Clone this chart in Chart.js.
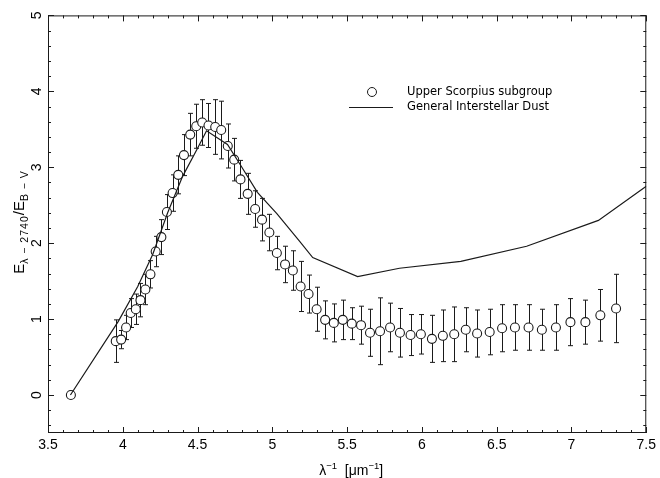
<!DOCTYPE html>
<html><head><meta charset="utf-8">
<script src="https://cdn.jsdelivr.net/npm/chart.js@4.4.0/dist/chart.umd.min.js"></script>
<style>html,body{margin:0;padding:0;background:#fff;}canvas{display:block;}</style>
</head><body>
<canvas id="c" width="660" height="478"></canvas>
<script>
// ---- data ----
const obsX = [3.653,3.953,3.989,4.022,4.053,4.087,4.118,4.151,4.185,4.220,4.258,4.295,4.333,4.371,4.409,4.451,4.491,4.531,4.573,4.618,4.658,4.702,4.745,4.787,4.835,4.885,4.931,4.980,5.030,5.085,5.137,5.189,5.242,5.296,5.353,5.411,5.471,5.531,5.593,5.653,5.720,5.787,5.853,5.924,5.993,6.067,6.140,6.216,6.293,6.369,6.453,6.536,6.622,6.713,6.802,6.896,6.993,7.093,7.193,7.298];
const obsY = [0.00,0.71,0.73,0.89,1.08,1.13,1.25,1.39,1.59,1.89,2.08,2.41,2.66,2.90,3.16,3.43,3.54,3.59,3.55,3.53,3.49,3.28,3.10,2.84,2.65,2.45,2.31,2.14,1.87,1.72,1.64,1.43,1.33,1.13,0.99,0.95,0.99,0.94,0.92,0.82,0.84,0.89,0.82,0.79,0.80,0.74,0.78,0.80,0.86,0.81,0.83,0.88,0.89,0.89,0.86,0.89,0.96,0.96,1.05,1.14];
const obsErr = [0.03,0.28,0.12,0.16,0.19,0.20,0.22,0.20,0.18,0.20,0.23,0.23,0.24,0.25,0.27,0.28,0.29,0.30,0.29,0.36,0.38,0.29,0.28,0.25,0.27,0.24,0.28,0.24,0.22,0.24,0.26,0.33,0.25,0.29,0.25,0.25,0.26,0.21,0.25,0.31,0.44,0.32,0.32,0.27,0.26,0.31,0.34,0.36,0.29,0.31,0.30,0.31,0.30,0.30,0.27,0.30,0.31,0.29,0.34,0.45];
const dustX = [3.65,3.97,4.10,4.20,4.30,4.40,4.50,4.56,4.70,4.79,4.90,5.03,5.18,5.27,5.57,5.85,6.26,6.70,7.18,7.50];
const dustY = [0.00,0.97,1.43,1.85,2.40,2.88,3.25,3.48,3.30,3.02,2.67,2.39,2.03,1.81,1.56,1.67,1.76,1.96,2.30,2.75];
const xTicks = [3.5,4,4.5,5,5.5,6,6.5,7,7.5];
const xTickLabels = ['3.5','4','4.5','5','5.5','6','6.5','7','7.5'];
const yTicks = [0,1,2,3,4,5];
const yTickLabels = ['0','1','2','3','4','5'];
const seriesNames = ['Upper Scorpius subgroup','General Interstellar Dust'];

const INK = '#1a1a1a';

const errorBars = {
  id:'errorBars',
  beforeDatasetsDraw(chart){
    const {ctx, scales:{x,y}} = chart;
    ctx.save();
    ctx.strokeStyle = INK; ctx.lineWidth = 1;
    for (let i=0;i<obsX.length;i++){
      const px = Math.round(x.getPixelForValue(obsX[i]))+0.5;
      const y1 = y.getPixelForValue(obsY[i]+obsErr[i]);
      const y2 = y.getPixelForValue(obsY[i]-obsErr[i]);
      ctx.beginPath();
      ctx.moveTo(px,y1); ctx.lineTo(px,y2);
      ctx.moveTo(px-2.5,y1); ctx.lineTo(px+2.5,y1);
      ctx.moveTo(px-2.5,y2); ctx.lineTo(px+2.5,y2);
      ctx.stroke();
    }
    ctx.restore();
  }
};

const frame = {
  id:'frame',
  afterDraw(chart){
    const {ctx, chartArea:{left,right,top,bottom}, scales:{x,y}} = chart;
    ctx.save();
    ctx.strokeStyle = INK; ctx.lineWidth = 1;
    ctx.strokeRect(left+0.5, top+0.5, right-left-1, bottom-top-1);
    ctx.beginPath();
    for (let i=0;i<=40;i++){
      const v = 3.5 + i*0.1;
      const px = Math.round(x.getPixelForValue(v))+0.5;
      const len = (i%5===0)?6:3;
      ctx.moveTo(px,bottom); ctx.lineTo(px,bottom-len);
      ctx.moveTo(px,top); ctx.lineTo(px,top+len);
    }
    for (let i=-2;i<=25;i++){
      const v = i*0.2;
      const py = Math.round(y.getPixelForValue(v))+0.5;
      const len = (i%5===0)?6:3;
      ctx.moveTo(left,py); ctx.lineTo(left+len,py);
      ctx.moveTo(right,py); ctx.lineTo(right-len,py);
    }
    ctx.stroke();

    // y title with subscripts
    ctx.fillStyle = '#000';
    const parts = [
      ['E','15px "Liberation Sans", Arial, sans-serif',0,'0px'],
      ['\u03bb \u2212 2740','10.5px "Liberation Sans", Arial, sans-serif',4,'1px'],
      ['/E','15px "Liberation Sans", Arial, sans-serif',0,'0px'],
      ['B \u2212 V','10.5px "Liberation Sans", Arial, sans-serif',4,'1px']
    ];
    let W = 0;
    parts.forEach(p=>{ctx.font=p[1]; ctx.letterSpacing=p[3]; p.push(ctx.measureText(p[0]).width); W+=p[4];});
    ctx.translate(19, 222);
    ctx.rotate(-Math.PI/2);
    ctx.textBaseline='alphabetic'; ctx.textAlign='left';
    let cx = -W/2;
    parts.forEach(p=>{ctx.font=p[1]; ctx.letterSpacing=p[3]; ctx.fillText(p[0], cx, 5+p[2]); cx+=p[4];});
    ctx.restore();

    // x title with superscripts
    ctx.save();
    ctx.fillStyle='#000';
    ctx.textBaseline='alphabetic'; ctx.textAlign='left';
    const xparts = [
      ['\u03bb','14px "Liberation Sans", Arial, sans-serif',0],
      ['\u22121','9.5px "Liberation Sans", Arial, sans-serif',-6],
      ['  [\u03bcm','14px "Liberation Sans", Arial, sans-serif',0],
      ['\u22121','9.5px "Liberation Sans", Arial, sans-serif',-6],
      [']','14px "Liberation Sans", Arial, sans-serif',0]
    ];
    let XW=0;
    xparts.forEach(p=>{ctx.font=p[1]; p.push(ctx.measureText(p[0]).width); XW+=p[3];});
    let xx = (left+right)/2 - XW/2 + 4;
    xparts.forEach(p=>{ctx.font=p[1]; ctx.fillText(p[0], xx, 475+p[2]); xx+=p[3];});
    ctx.restore();

    // legend
    ctx.save();
    ctx.strokeStyle=INK; ctx.fillStyle='#000'; ctx.lineWidth=1;
    ctx.beginPath(); ctx.arc(372, 92, 4.5, 0, Math.PI*2); ctx.stroke();
    ctx.beginPath(); ctx.moveTo(349, 107.5); ctx.lineTo(393, 107.5); ctx.stroke();
    ctx.font='11.5px "DejaVu Sans", sans-serif';
    ctx.textBaseline='middle'; ctx.textAlign='left';
    ctx.fillText(seriesNames[0], 407, 92);
    ctx.fillText(seriesNames[1], 407, 107);
    ctx.restore();
  }
};

new Chart(document.getElementById('c'), {
  type:'scatter',
  data:{
    datasets:[
      {label:seriesNames[1], data:dustX.map((v,i)=>({x:v,y:dustY[i]})), showLine:true, borderColor:INK, borderWidth:1.2, pointRadius:0, fill:false, tension:0},
      {label:seriesNames[0], data:obsX.map((v,i)=>({x:v,y:obsY[i]})), showLine:false, pointStyle:'circle', pointRadius:4.5, pointBorderWidth:1.1, borderColor:INK, backgroundColor:'#fff', pointBackgroundColor:'#fff', pointBorderColor:INK}
    ]
  },
  options:{
    responsive:false, animation:false, devicePixelRatio:1,
    layout:{padding:{top:11,right:12,left:0,bottom:0}},
    plugins:{legend:{display:false}, tooltip:{enabled:false}},
    scales:{
      x:{type:'linear', min:3.5, max:7.5,
         afterBuildTicks:(s)=>{s.ticks = xTicks.map(v=>({value:v}));},
         afterFit:(s)=>{s.height=45;},
         grid:{display:false, drawTicks:false}, border:{display:false},
         ticks:{autoSkip:false, maxRotation:0, minRotation:0, padding:4, color:'#000', font:{family:'"Liberation Sans", Arial, sans-serif', size:14},
           callback:(v)=>{const k=xTicks.findIndex(t=>Math.abs(t-v)<1e-9); return k>=0?xTickLabels[k]:'';}}},
      y:{type:'linear', min:-0.5, max:5,
         afterBuildTicks:(s)=>{s.ticks = yTicks.map(v=>({value:v}));},
         afterFit:(s)=>{s.width=48;},
         grid:{display:false, drawTicks:false}, border:{display:false},
         ticks:{autoSkip:false, minRotation:90, maxRotation:90, crossAlign:'center', padding:7, color:'#000', font:{family:'"Liberation Sans", Arial, sans-serif', size:14},
           callback:(v)=>{const k=yTicks.findIndex(t=>Math.abs(t-v)<1e-9); return k>=0?yTickLabels[k]:'';}}}
    }
  },
  plugins:[errorBars, frame]
});
</script>
</body></html>
